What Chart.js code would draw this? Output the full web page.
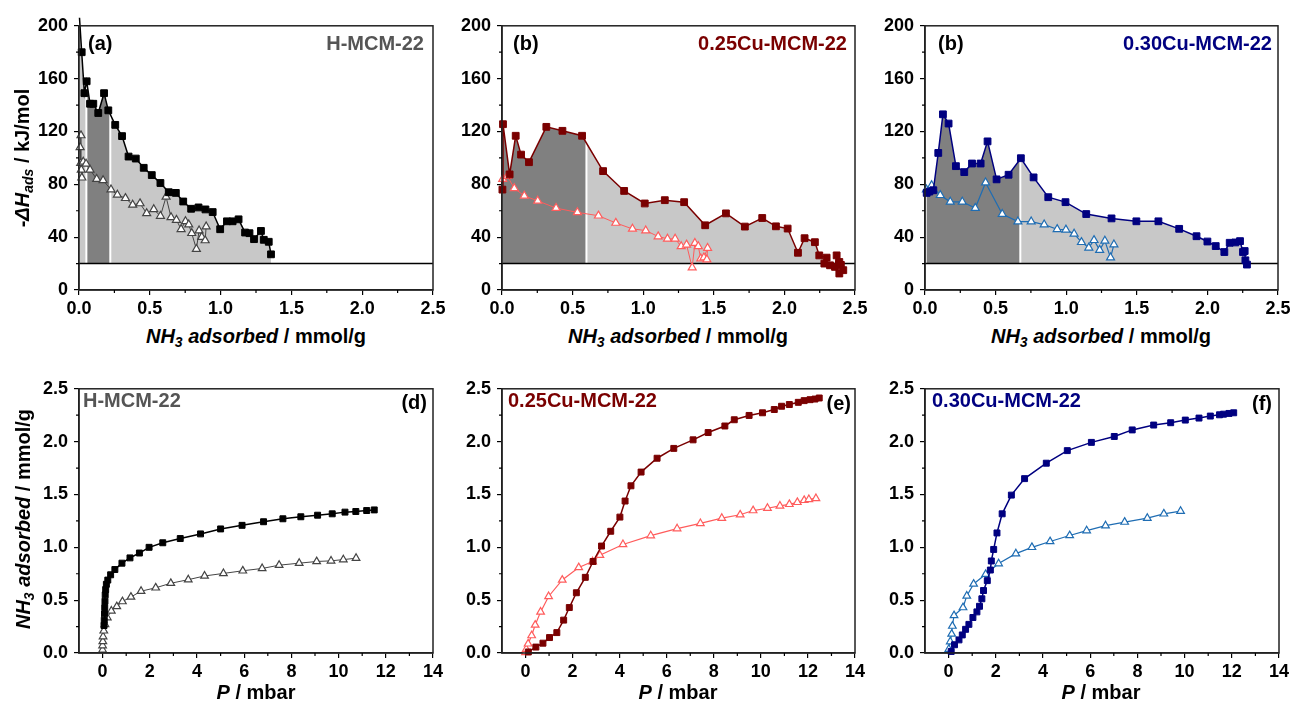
<!DOCTYPE html>
<html>
<head>
<meta charset="utf-8">
<script src="https://cdn.jsdelivr.net/npm/chart.js@4.4.1/dist/chart.umd.min.js"></script>
<style>
  body { margin: 0; background: #fff; }
  #fig { position: relative; width: 1292px; height: 702px; overflow: hidden; background: #fff;
         font-family: 'Liberation Sans', Arial, sans-serif; font-weight: bold; color: #000; }
  #fig canvas { position: absolute; }
  .txt { position: absolute; white-space: nowrap; line-height: 1; }
  .title { font-size: 20px; transform: translate(-50%, -50%); }
  .ytitle { font-size: 20px; transform: translate(-50%, -50%) rotate(-90deg); }
  .lab { font-size: 20px; transform: translateY(-50%); }
  .right { transform: translate(-100%, -50%); }
  sub { font-size: 0.7em; vertical-align: -0.3em; line-height: 0; }
</style>
</head>
<body>
<div id="fig">
  <div class="txt ytitle" style="left:22px; top:158px">-<i>ΔH</i><sub><i>ads</i></sub> / kJ/mol</div>
  <div class="txt ytitle" style="left:23px; top:519px"><i>NH</i><sub><i>3</i></sub><i> adsorbed</i> / mmol/g</div>

  <div class="txt title" style="left:256px; top:336px"><i>NH</i><sub><i>3</i></sub><i> adsorbed</i> / mmol/g</div>
  <div class="txt title" style="left:678px; top:336px"><i>NH</i><sub><i>3</i></sub><i> adsorbed</i> / mmol/g</div>
  <div class="txt title" style="left:1101px; top:336px"><i>NH</i><sub><i>3</i></sub><i> adsorbed</i> / mmol/g</div>
  <div class="txt title" style="left:256px; top:692px"><i>P</i> / mbar</div>
  <div class="txt title" style="left:678px; top:692px"><i>P</i> / mbar</div>
  <div class="txt title" style="left:1101px; top:692px"><i>P</i> / mbar</div>

  <div class="txt lab" style="left:88px; top:43px">(a)</div>
  <div class="txt lab right" style="left:424px; top:43px; color:#555">H-MCM-22</div>
  <div class="txt lab" style="left:513px; top:43px">(b)</div>
  <div class="txt lab right" style="left:847px; top:43px; color:#7a0000">0.25Cu-MCM-22</div>
  <div class="txt lab" style="left:938px; top:43px">(b)</div>
  <div class="txt lab right" style="left:1272px; top:43px; color:#000080">0.30Cu-MCM-22</div>

  <div class="txt lab" style="left:83px; top:400px; color:#555">H-MCM-22</div>
  <div class="txt lab right" style="left:427px; top:402px">(d)</div>
  <div class="txt lab" style="left:508px; top:400px; color:#7a0000">0.25Cu-MCM-22</div>
  <div class="txt lab right" style="left:851px; top:403px">(e)</div>
  <div class="txt lab" style="left:932px; top:400px; color:#000080">0.30Cu-MCM-22</div>
  <div class="txt lab right" style="left:1272px; top:403px">(f)</div>
</div>
<script>
// differential heats of adsorption, [NH3 adsorbed mmol/g, -dH kJ/mol]
// (first H-MCM-22 point lies above the 200 kJ/mol axis limit)
const hmcmHeat = [[0,212],[0.019,180],[0.038,149],[0.054,158],[0.078,141],[0.101,141],[0.136,134],[0.177,149],[0.207,136],[0.256,125],[0.304,116.5],[0.35,101],[0.401,99.5],[0.457,92.5],[0.514,87],[0.575,81],[0.634,74],[0.684,73.5],[0.736,67],[0.792,61.5],[0.844,62.5],[0.893,61],[0.944,59],[0.997,46],[1.045,52],[1.085,52],[1.127,53.5],[1.173,43.5],[1.204,43],[1.236,38.5],[1.285,44.7],[1.305,38],[1.34,36.5],[1.356,27]];
const hmcmHeat2 = [[0.008,108],[0.014,117],[0.012,96],[0.016,91],[0.02,85],[0.03,97],[0.05,95.5],[0.078,91],[0.125,84],[0.17,83],[0.226,76],[0.271,72],[0.328,69.5],[0.379,64.5],[0.431,65.5],[0.478,58],[0.528,61],[0.575,56],[0.615,70.5],[0.65,55],[0.688,53],[0.721,46],[0.752,52],[0.775,49.5],[0.796,43],[0.829,31],[0.848,45],[0.867,40],[0.891,37.5],[0.898,48]];
const cu25Heat = [[0.003,76],[0.007,125.5],[0.054,87.5],[0.097,116.75],[0.135,102.5],[0.191,96.75],[0.314,123.5],[0.428,120.5],[0.567,116.75],[0.716,90],[0.865,75],[1.011,65.5],[1.153,68],[1.29,66.5],[1.439,49],[1.586,58],[1.72,48],[1.843,54.5],[1.94,48.2],[2.023,46.5],[2.096,28.2],[2.143,39.2],[2.216,36.2],[2.247,26.2],[2.299,24.5],[2.283,20],[2.323,18.7],[2.358,17.5],[2.37,26.2],[2.389,21.2],[2.4,19],[2.389,12.5],[2.417,15]];
const cu25Heat2 = [[0.005,84],[0.038,86.25],[0.087,77],[0.158,71.25],[0.253,67.5],[0.383,62],[0.534,58.75],[0.683,56.25],[0.806,50.75],[0.924,46.25],[1.018,45],[1.106,40.5],[1.172,38.75],[1.226,38.75],[1.269,33],[1.307,34.25],[1.347,17],[1.366,35.5],[1.39,33],[1.408,23.75],[1.43,24.5],[1.456,31.75],[1.451,23]];
const cu30Heat = [[0.012,73.5],[0.031,74.5],[0.059,75.5],[0.094,103.75],[0.127,133],[0.167,126],[0.219,93.75],[0.278,89.25],[0.333,95.75],[0.394,95.75],[0.443,112.5],[0.507,83.75],[0.592,87.25],[0.679,99.75],[0.769,85.25],[0.873,70.25],[0.995,66.5],[1.142,57.5],[1.321,54.2],[1.497,52],[1.653,52],[1.8,46.3],[1.923,40.7],[2.0,36.7],[2.059,33.25],[2.12,28.75],[2.158,35.75],[2.198,36],[2.231,37],[2.252,28.75],[2.264,29.5],[2.269,22.5],[2.28,19.25]];
const cu30Heat2 = [[0.01,76],[0.047,79.25],[0.108,71.75],[0.179,66.75],[0.264,66.75],[0.356,62],[0.429,81.25],[0.547,57.5],[0.658,51.75],[0.752,51.75],[0.844,49.5],[0.936,46],[0.998,45.6],[1.056,42.5],[1.108,36.2],[1.16,32],[1.197,37.7],[1.237,30.2],[1.274,37.2],[1.314,24.5],[1.338,34.4]];

// shaded strength ranges under the first-run heat curves
const heatBase = 20;
const hmcmSplits = [0.052, 0.221];
const cu25Splits = [0.598];
const cu30Splits = [0.675];

// isotherms, [P mbar, NH3 adsorbed mmol/g]
const hmcmIso = [[0.06,0.26],[0.07,0.31],[0.08,0.37],[0.09,0.43],[0.1,0.49],[0.11,0.55],[0.13,0.6],[0.16,0.65],[0.22,0.69],[0.34,0.74],[0.52,0.79],[0.82,0.85],[1.16,0.9],[1.56,0.946],[1.97,1.0],[2.55,1.043],[3.29,1.083],[4.15,1.127],[5.0,1.174],[5.91,1.208],[6.82,1.242],[7.64,1.27],[8.4,1.289],[9.11,1.304],[9.73,1.317],[10.27,1.333],[10.73,1.339],[11.19,1.348],[11.51,1.354]];
const hmcmIso2 = [[0.0,0.03],[0.0,0.07],[0.01,0.11],[0.02,0.155],[0.05,0.21],[0.1,0.27],[0.2,0.335],[0.37,0.399],[0.6,0.44],[0.84,0.487],[1.2,0.53],[1.63,0.585],[2.25,0.617],[2.89,0.66],[3.63,0.694],[4.32,0.729],[5.12,0.753],[5.94,0.778],[6.76,0.8],[7.48,0.831],[8.33,0.85],[9.07,0.866],[9.68,0.872],[10.2,0.884],[10.74,0.897]];
const cu25Iso = [[0.12,0.01],[0.44,0.056],[0.74,0.093],[1.02,0.146],[1.33,0.193],[1.62,0.311],[1.86,0.43],[2.16,0.57],[2.54,0.716],[2.87,0.866],[3.23,1.012],[3.62,1.152],[4.01,1.286],[4.23,1.438],[4.48,1.582],[4.91,1.712],[5.59,1.843],[6.3,1.936],[7.12,2.017],[7.76,2.086],[8.47,2.148],[8.87,2.207],[9.5,2.248],[10.07,2.273],[10.57,2.304],[10.88,2.335],[11.21,2.351],[11.59,2.372],[11.84,2.388],[12.09,2.397],[12.3,2.403],[12.48,2.413]];
const cu25Iso2 = [[0.0,0.006],[0.03,0.037],[0.11,0.087],[0.26,0.165],[0.41,0.265],[0.64,0.389],[0.98,0.535],[1.56,0.691],[2.26,0.809],[2.85,0.865],[3.16,0.925],[4.14,1.027],[5.32,1.111],[6.44,1.177],[7.43,1.227],[8.34,1.276],[9.12,1.308],[9.67,1.348],[10.28,1.37],[10.81,1.392],[11.21,1.407],[11.55,1.426],[11.84,1.445],[12.04,1.454],[12.34,1.463]];
const cu30Iso = [[0.11,0.015],[0.25,0.078],[0.44,0.124],[0.58,0.171],[0.72,0.224],[0.86,0.271],[1.03,0.336],[1.2,0.389],[1.31,0.442],[1.41,0.513],[1.48,0.591],[1.64,0.685],[1.77,0.785],[1.81,0.871],[1.91,0.98],[2.05,1.136],[2.27,1.317],[2.66,1.494],[3.22,1.65],[4.14,1.796],[5.03,1.915],[6.05,1.993],[7.02,2.049],[7.78,2.111],[8.69,2.157],[9.41,2.179],[10.03,2.204],[10.61,2.223],[11.09,2.242],[11.48,2.254],[11.65,2.26],[11.88,2.267],[12.08,2.273]];
const cu30Iso2 = [[0.01,0.037],[0.07,0.108],[0.13,0.18],[0.16,0.255],[0.23,0.355],[0.61,0.43],[0.77,0.54],[1.06,0.653],[1.57,0.745],[2.12,0.846],[2.85,0.94],[3.53,1.0],[4.3,1.055],[5.13,1.112],[5.85,1.158],[6.65,1.205],[7.46,1.239],[8.42,1.276],[9.12,1.317],[9.83,1.342]];

// tick positions
const heatXTicks = [0, 0.5, 1, 1.5, 2, 2.5];
const heatXMinor = [0.25, 0.75, 1.25, 1.75, 2.25];
const heatYTicks = [0, 40, 80, 120, 160, 200];
const heatYMinor = [20, 60, 100, 140, 180];
const isoXTicks = [0, 2, 4, 6, 8, 10, 12, 14];
const isoXMinor = [1, 3, 5, 7, 9, 11, 13];
const isoYTicks = [0, 0.5, 1, 1.5, 2, 2.5];
const isoYMinor = [0.25, 0.75, 1.25, 1.75, 2.25];

const LIGHT = '#c8c8c8', DARK = '#808080';

Chart.defaults.font.family = "'Liberation Sans', Arial, sans-serif";
Chart.defaults.color = '#000';

function drawHeatFill(ctx, area, x, y, f) {

    const yb = y.getPixelForValue(f.base);
    const path = new Path2D();
    path.moveTo(x.getPixelForValue(f.data[0][0]), yb);
    f.data.forEach(p => path.lineTo(x.getPixelForValue(p[0]), y.getPixelForValue(p[1])));
    path.lineTo(x.getPixelForValue(f.data[f.data.length - 1][0]), yb);
    path.closePath();

    const edges = [x.min, ...f.splits, x.max];
    f.colors.forEach((c, i) => {
        const x0 = x.getPixelForValue(edges[i]);
        const x1 = x.getPixelForValue(edges[i + 1]);
        ctx.save();
        ctx.beginPath();
        ctx.rect(x0, area.top, x1 - x0, yb - area.top);
        ctx.clip();
        ctx.fillStyle = c;
        ctx.fill(path);
        ctx.restore();
    });

    // thin white gaps between the ranges
    ctx.save();
    ctx.clip(path);
    ctx.strokeStyle = '#fff';
    ctx.lineWidth = 2;
    f.splits.forEach(s => {
        const px = x.getPixelForValue(s);
        ctx.beginPath();
        ctx.moveTo(px, area.top);
        ctx.lineTo(px, yb);
        ctx.stroke();
    });
    ctx.restore();

}

const panelDecor = {
    id: 'panelDecor',
    beforeDatasetsDraw: (chart, args, opts) => {
        const { ctx, chartArea: area, scales: { x, y } } = chart;
        if (opts.fill) {
            drawHeatFill(ctx, area, x, y, opts.fill);
            const yb = y.getPixelForValue(opts.fill.base);
            ctx.save();
            ctx.strokeStyle = '#000';
            ctx.lineWidth = 1.5;
            ctx.beginPath();
            ctx.moveTo(area.left, yb);
            ctx.lineTo(area.right, yb);
            ctx.stroke();
            ctx.restore();
        }
    },
    afterDraw: (chart, args, opts) => {
        const { ctx, chartArea: area, scales: { x, y } } = chart;
        ctx.save();
        ctx.strokeStyle = '#222';
        ctx.lineWidth = 1.5;
        ctx.strokeRect(area.left, area.top, area.width, area.height);
        ctx.lineWidth = 1.2;
        ctx.strokeStyle = '#000';
        ctx.beginPath();
        opts.minorX.forEach(v => {
            const px = x.getPixelForValue(v);
            ctx.moveTo(px, area.bottom);
            ctx.lineTo(px, area.bottom + 3);
        });
        opts.minorY.forEach(v => {
            const py = y.getPixelForValue(v);
            ctx.moveTo(area.left - 3, py);
            ctx.lineTo(area.left, py);
        });
        ctx.stroke();
        ctx.restore();
    }
};

function series(data, color, style, r, fillColor, width) {

    return {
        data: data.map(p => ({ x: p[0], y: p[1] })),
        showLine: true,
        borderColor: color,
        borderWidth: width,
        pointStyle: style,
        pointRadius: r,
        pointBorderColor: color,
        pointBackgroundColor: fillColor,
        pointBorderWidth: style === 'rect' ? 1 : 1.2,
        clip: 8
    };

}

function axis(min, max, ticks, fmt, fitKey, fitSize) {

    return {
        type: 'linear',
        min: min,
        max: max,
        afterBuildTicks: s => { s.ticks = ticks.map(v => ({ value: v })); },
        afterFit: s => { s[fitKey] = fitSize; },
        ticks: {
            font: { size: 18, weight: 'bold' },
            color: '#000',
            padding: fitKey === 'width' ? 6 : 3,
            callback: fmt
        },
        grid: { drawOnChartArea: false, drawTicks: true, tickLength: 5, color: '#000', lineWidth: 1.2 },
        border: { display: true, color: '#222', width: 1.5 }
    };

}

const PAD = { left: 52, top: 14, right: 16, bottom: 34 };

function makePanel(box, datasets, xAxis, yAxis, decor) {

    const w = box[2] - box[0], h = box[3] - box[1];
    const canvas = document.createElement('canvas');
    canvas.width = w + PAD.left + PAD.right;
    canvas.height = h + PAD.top + PAD.bottom;
    canvas.style.left = (box[0] - PAD.left) + 'px';
    canvas.style.top = (box[1] - PAD.top) + 'px';
    canvas.style.width = canvas.width + 'px';
    canvas.style.height = canvas.height + 'px';
    document.getElementById('fig').insertBefore(canvas, document.getElementById('fig').firstChild);

    return new Chart(canvas.getContext('2d'), {
        type: 'scatter',
        data: { datasets: datasets },
        options: {
            responsive: false,
            animation: false,
            devicePixelRatio: 1,
            events: [],
            layout: { padding: { top: PAD.top, right: PAD.right, left: 0, bottom: 0 } },
            plugins: {
                legend: { display: false },
                tooltip: { enabled: false },
                panelDecor: decor
            },
            scales: { x: xAxis, y: yAxis }
        },
        plugins: [panelDecor]
    });

}

const fmt1 = v => v.toFixed(1);
const fmt0 = v => String(v);

const heatX = () => axis(0, 2.5, heatXTicks, fmt1, 'height', PAD.bottom);
const heatY = () => axis(0, 200, heatYTicks, fmt0, 'width', PAD.left);
const isoX = () => axis(-1, 14, isoXTicks, fmt0, 'height', PAD.bottom);
const isoY = () => axis(0, 2.5, isoYTicks, fmt1, 'width', PAD.left);

const heatMinor = { minorX: heatXMinor, minorY: heatYMinor };
const isoMinor = { minorX: isoXMinor, minorY: isoYMinor };

// top row: heats of adsorption
makePanel([79, 23, 433, 290], [
    series(hmcmHeat, '#000', 'rect', 4.8, '#000', 1.5),
    series(hmcmHeat2, '#444', 'triangle', 4.6, '#fff', 1)
], heatX(), heatY(), Object.assign({
    fill: { data: hmcmHeat, base: heatBase, splits: hmcmSplits, colors: [LIGHT, DARK, LIGHT] }
}, heatMinor));

makePanel([502, 23, 855, 290], [
    series(cu25Heat, '#7a0000', 'rect', 4.8, '#7a0000', 1.5),
    series(cu25Heat2, '#ff5c5c', 'triangle', 4.6, '#fff', 1)
], heatX(), heatY(), Object.assign({
    fill: { data: cu25Heat, base: heatBase, splits: cu25Splits, colors: [DARK, LIGHT] }
}, heatMinor));

makePanel([925, 23, 1278, 290], [
    series(cu30Heat, '#000080', 'rect', 4.8, '#000080', 1.5),
    series(cu30Heat2, '#1f6db3', 'triangle', 4.6, '#fff', 1.2)
], heatX(), heatY(), Object.assign({
    fill: { data: cu30Heat, base: heatBase, splits: cu30Splits, colors: [DARK, LIGHT] }
}, heatMinor));

// bottom row: isotherms
makePanel([79, 386, 433, 653], [
    series(hmcmIso, '#000', 'rect', 4.2, '#000', 1.5),
    series(hmcmIso2, '#444', 'triangle', 4.4, '#fff', 1)
], isoX(), isoY(), isoMinor);

makePanel([502, 386, 855, 653], [
    series(cu25Iso, '#7a0000', 'rect', 4.2, '#7a0000', 1.5),
    series(cu25Iso2, '#ff5c5c', 'triangle', 4.4, '#fff', 1.2)
], isoX(), isoY(), isoMinor);

makePanel([925, 386, 1279, 653], [
    series(cu30Iso, '#000080', 'rect', 4.2, '#000080', 1.5),
    series(cu30Iso2, '#1f6db3', 'triangle', 4.4, '#fff', 1.2)
], isoX(), isoY(), isoMinor);
</script>
</body>
</html>
